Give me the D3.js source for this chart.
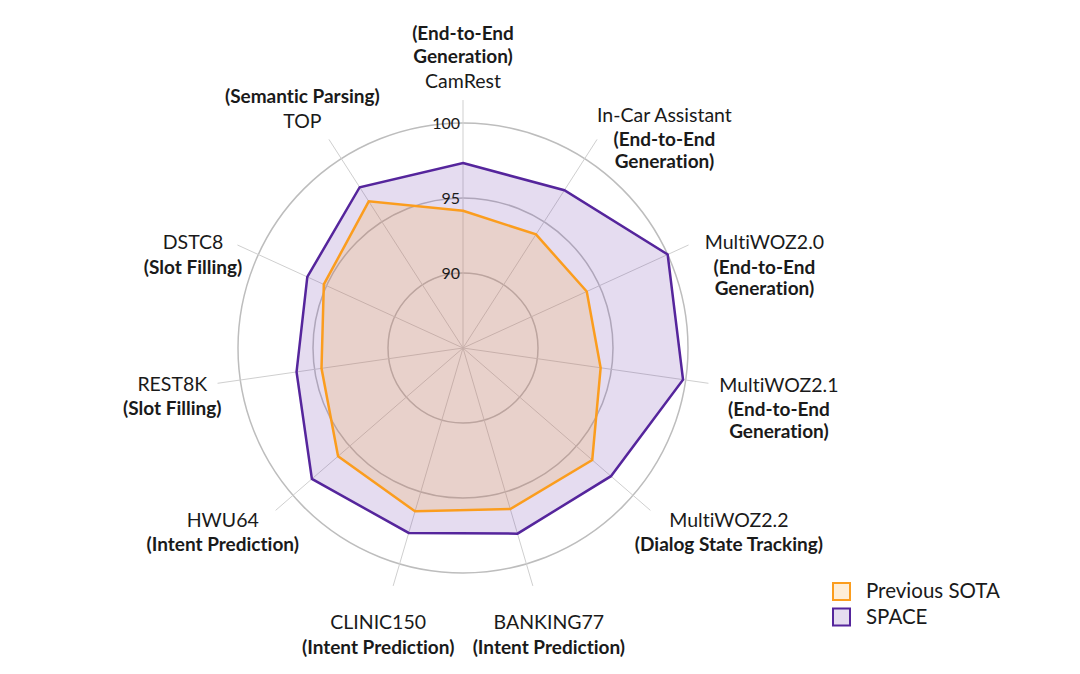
<!DOCTYPE html>
<html><head><meta charset="utf-8">
<script src="https://cdn.jsdelivr.net/npm/d3@7"></script>
<style>body{margin:0;background:#fff}svg{display:block}text{font-family:Lato,"Open Sans",sans-serif;fill:#1a1a1a;font-variant-ligatures:none;font-feature-settings:"liga" 0,"clig" 0}</style>
</head><body>
<svg id="chart" width="1080" height="674"></svg>
<script>
// ---- data ----
const datasets = ["CamRest","In-Car Assistant","MultiWOZ2.0","MultiWOZ2.1","MultiWOZ2.2","BANKING77","CLINIC150","HWU64","REST8K","DSTC8","TOP"];
const tasks = [
  ["(End-to-End","Generation)"],
  ["(End-to-End","Generation)"],
  ["(End-to-End","Generation)"],
  ["(End-to-End","Generation)"],
  ["(Dialog State Tracking)"],
  ["(Intent Prediction)"],
  ["(Intent Prediction)"],
  ["(Intent Prediction)"],
  ["(Slot Filling)"],
  ["(Slot Filling)"],
  ["(Semantic Parsing)"]
];
const previousSOTA = [94.15, 94.0, 94.07, 94.27, 96.4, 96.19, 96.35, 96.02, 94.53, 95.2, 96.62];
const spaceScores  = [97.33, 97.5, 100.0, 99.82, 98.05, 97.9, 97.85, 98.33, 96.21, 96.41, 97.74];
const gridTicks = [90, 95, 100];
const seriesNames = ["Previous SOTA", "SPACE"];

// ---- layout (not data) ----
const cx = 463, cy = 348;
// offset of the dataset-name line (center x, baseline y) from the axis end
const labelOffsets = [[0,-12.3],[67.4,-17.7],[75.9,4.3],[70.5,8.4],[78.5,16.3],[16,43.3],[-15,43.3],[-52.9,16.3],[-45.3,7.4],[-44.4,4.3],[-26.6,-11]];
const taskAbove = [true,false,false,false,false,false,false,false,false,false,true];
const labelSize = "19.5px";

const svg = d3.select("#chart");
const g = svg.append("g").attr("transform", `translate(${cx},${cy})`);

const r = d3.scaleLinear().domain([85, 100]).range([0, 225]);
const n = datasets.length;
const angle = d3.scaleLinear().domain([0, n]).range([0, 2 * Math.PI]);
const axisLen = r(101.53);

// grid circles
g.selectAll("circle.grid").data(gridTicks).join("circle")
  .attr("class","grid").attr("r", d => r(d))
  .attr("fill","none").attr("stroke","#bdbdbd").attr("stroke-width",1.5);

// spokes
g.selectAll("line.spoke").data(datasets).join("line")
  .attr("class","spoke")
  .attr("x1",0).attr("y1",0)
  .attr("x2",(d,i)=>axisLen*Math.sin(angle(i)))
  .attr("y2",(d,i)=>-axisLen*Math.cos(angle(i)))
  .attr("stroke","#cfcfcf").attr("stroke-width",1);

// polygons
const radial = d3.lineRadial().angle((d,i)=>angle(i)).radius(d=>r(d)).curve(d3.curveLinearClosed);
g.append("path").datum(spaceScores).attr("d", radial)
  .attr("fill","rgba(110,60,170,0.18)").attr("stroke","#55259c").attr("stroke-width",2.5).attr("stroke-linejoin","miter");
g.append("path").datum(previousSOTA).attr("d", radial)
  .attr("fill","rgba(250,160,40,0.18)").attr("stroke","#fb9d1e").attr("stroke-width",2.5).attr("stroke-linejoin","miter");

// tick labels
g.selectAll("text.tick").data(gridTicks).join("text")
  .attr("class","tick").attr("x",-3).attr("y",d=>-r(d))
  .attr("dy","0.36em").attr("text-anchor","end")
  .style("font-size","16px").text(d=>d);

// axis labels
datasets.forEach((name,i)=>{
  const ex = axisLen*Math.sin(angle(i)), ey = -axisLen*Math.cos(angle(i));
  const x = ex + labelOffsets[i][0], y = ey + labelOffsets[i][1];
  const lab = g.append("g").attr("class","label");
  lab.append("text").attr("x",x).attr("y",y).attr("text-anchor","middle")
    .style("font-size",labelSize).style("font-weight",400).text(name);
  const t = tasks[i];
  t.forEach((line,j)=>{
    let ly;
    if (taskAbove[i]) {
      ly = y - 25 - (t.length-1-j)*22.5;
    } else {
      ly = y + 24.5 + j*21.5;
    }
    lab.append("text").attr("x",x).attr("y",ly).attr("text-anchor","middle")
      .style("font-size","19px").style("font-weight",700).text(line);
  });
});

// legend
const legend = svg.append("g").attr("transform","translate(832,582)");
const legFill = ["rgba(250,160,40,0.18)","rgba(110,60,170,0.18)"];
const legStroke = ["#fb9d1e","#55259c"];
seriesNames.forEach((s,i)=>{
  const row = legend.append("g").attr("transform",`translate(0,${i*25.5})`);
  row.append("rect").attr("x",1).attr("y",1).attr("width",17).attr("height",17)
    .attr("fill",legFill[i]).attr("stroke",legStroke[i]).attr("stroke-width",2);
  row.append("text").attr("x",34).attr("y",16).style("font-size","20.5px").text(s);
});
</script>
</body></html>
